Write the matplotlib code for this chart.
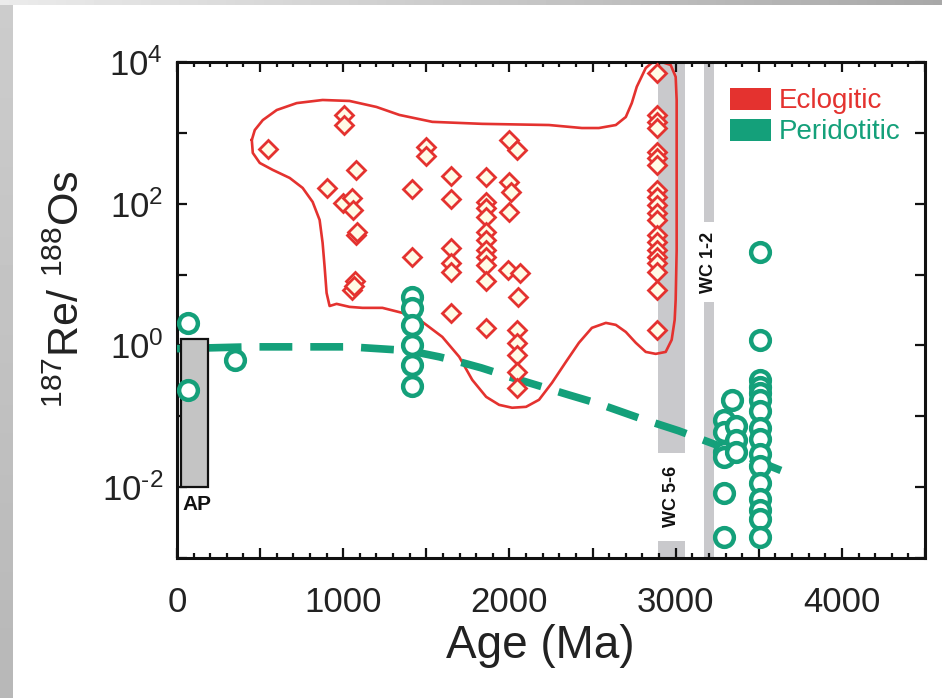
import matplotlib
matplotlib.use('Agg')
import matplotlib.pyplot as plt
import numpy as np
from matplotlib.patches import Rectangle, Patch
from matplotlib.ticker import FixedLocator, MultipleLocator, FuncFormatter, NullLocator

plt.rcParams['font.family'] = ['Liberation Sans', 'DejaVu Sans']
plt.rcParams['mathtext.fontset'] = 'custom'
plt.rcParams['mathtext.rm'] = 'Liberation Sans'
plt.rcParams['mathtext.it'] = 'Liberation Sans:italic'
plt.rcParams['mathtext.bf'] = 'Liberation Sans:bold'

RED = '#e4322f'
GREEN = '#14a07a'
BAND = '#c9c9cc'

# eclogitic diamonds (age Ma, 187Re/188Os)
ecl_age = [546, 1002, 1002, 1074, 900, 996, 1050, 1056, 1074, 1080, 1068, 1054, 1062,
           1500, 1500, 1416, 1416,
           1650, 1650, 1650, 1650, 1650, 1650,
           1860, 1860, 1860, 1860, 1860, 1860, 1860, 1860, 1860, 1860, 1860,
           2000, 2046, 2000, 2012, 2000, 1990, 2064, 2052,
           2046, 2046, 2046, 2046, 2046,
           2886, 2886, 2886, 2886, 2886, 2886, 2886, 2886, 2886, 2886,
           2886, 2886, 2886, 2886, 2886, 2886, 2886, 2886, 2886, 2886]
ecl_ratio = [587, 1800, 1285, 300, 167, 102, 120, 82, 36.5, 40, 8.0, 6.1, 6.8,
             628, 469, 160, 17.8,
             245, 117, 23.8, 14.6, 10.9, 2.9,
             240, 107, 87, 65, 40, 30.5, 22.3, 17.8, 13.6, 8.0, 1.77,
             785, 574, 205, 146, 76, 11.6, 10.6, 4.9,
             1.66, 1.08, 0.74, 0.42, 0.25,
             7060, 1800, 1406, 1175, 537, 439, 351, 157, 125, 96,
             75, 58, 36.5, 29, 22.3, 17.8, 14.6, 10.9, 6.1, 1.66]

# peridotitic diamonds
per_age = [66, 66, 348,
           1416, 1416, 1416, 1416, 1416, 1416,
           3510, 3510, 3510, 3510, 3510, 3510, 3510, 3510, 3510, 3510,
           3510, 3510, 3510, 3510, 3510, 3510,
           3336, 3288, 3288, 3288, 3288, 3288, 3288, 3360, 3360, 3360]
per_ratio = [2.07, 0.236, 0.63,
             4.75, 3.4, 1.94, 1.01, 0.53, 0.27,
             20.8, 1.21, 0.33, 0.26, 0.21, 0.17, 0.118, 0.069, 0.048, 0.029,
             0.0196, 0.0115, 0.0067, 0.0048, 0.0035, 0.00195,
             0.17, 0.090, 0.060, 0.031, 0.027, 0.0084, 0.0020, 0.072, 0.047, 0.031]

# dashed peridotitic trend
trend_age = [0, 438, 738, 1038, 1320, 1458, 1578, 1698, 1830, 2000, 2178, 2358, 2538,
             2778, 3018, 3348, 3696]
trend_ratio = [0.90, 0.955, 0.955, 0.955, 0.867, 0.787, 0.69, 0.587, 0.483, 0.36, 0.269,
               0.20, 0.150, 0.095, 0.0624, 0.032, 0.015]

# eclogitic envelope (closed outline)
env_age = [450, 468, 516, 600, 720, 876, 1038, 1200, 1338, 1536, 1836, 2238, 2436, 2538,
           2640, 2700, 2736, 2766, 2820, 2856, 2916, 2970, 3000, 3006, 3006, 3006, 3000,
           2994, 2976, 2940, 2880, 2820, 2760, 2700, 2640, 2580, 2496, 2418, 2340, 2256,
           2178, 2100, 2016, 1938, 1860, 1776, 1698, 1596, 1476, 1356, 1236, 1116, 1038,
           960, 918, 900, 888, 876, 858, 816, 756, 678, 576, 498, 456, 450]
env_ratio = [794, 1096, 1513, 2100, 2630, 2910, 2820, 2320, 1790, 1430, 1340, 1290, 1170,
             1170, 1290, 1675, 2630, 4470, 8220, 9700, 10000, 9070, 6170, 2900, 575, 22,
             4.4, 2.29, 1.2, 0.81, 0.76, 0.81, 1.09, 1.55, 1.95, 2.08, 1.77, 1.09, 0.587,
             0.297, 0.171, 0.136, 0.132, 0.145, 0.188, 0.327, 0.69, 1.32, 2.15, 2.88, 3.39,
             3.39, 3.5, 3.86, 3.6, 5.5, 12.9, 28, 59, 106, 167, 231, 300, 376, 521, 794]

wc56_age = (2892, 3054)
wc56_ratio = [(1e-3, 0.00175), (0.0305, 1e4)]
wc12_age = (3168, 3228)
wc12_ratio = [(1e-3, 4.1), (55, 1e4)]
ap_age = (25, 185)
ap_ratio = (0.0101, 1.25)

fig = plt.figure(figsize=(9.42, 6.98), dpi=100)

# slide background strips
bl = fig.add_axes([0, 0, 13 / 942, 1])
bl.imshow(np.linspace(0.80, 0.72, 50).reshape(-1, 1), cmap='gray', vmin=0, vmax=1,
          aspect='auto', extent=(0, 1, 0, 1))
bl.axis('off')
bt = fig.add_axes([0, 1 - 5 / 698, 1, 5 / 698])
bt.imshow(np.linspace(0.92, 0.66, 100).reshape(1, -1), cmap='gray', vmin=0, vmax=1,
          aspect='auto', extent=(0, 1, 0, 1))
bt.axis('off')

ax = fig.add_axes([177 / 942, 1 - 558 / 698, 748 / 942, 496 / 698])
ax.set_yscale('log')
ax.set_xlim(0, 4500)
ax.set_ylim(1e-3, 1e4)

for lo, hi in wc56_ratio:
    ax.fill_between(wc56_age, lo, hi, color=BAND, lw=0, zorder=1)
for lo, hi in wc12_ratio:
    ax.fill_between(wc12_age, lo, hi, color=BAND, lw=0, zorder=1)
ax.text(np.mean(wc56_age), 0.0073, 'WC 5-6', rotation=90, ha='center', va='center',
        fontsize=13, fontweight='bold', color='#111111')
ax.text(np.mean(wc12_age), 15, 'WC 1-2', rotation=90, ha='center', va='center',
        fontsize=13, fontweight='bold', color='#111111')

ax.plot(env_age, env_ratio, color=RED, lw=1.9, zorder=2, solid_joinstyle='round')

ax.plot(trend_age, trend_ratio, color=GREEN, lw=5.5, ls=(2.5, (4.3, 2.35)),
        dash_capstyle='butt', zorder=3)

ax.add_patch(Rectangle((ap_age[0], ap_ratio[0]), ap_age[1] - ap_age[0],
                       ap_ratio[1] - ap_ratio[0], facecolor='#c4c4c4',
                       edgecolor='#111111', lw=1.6, zorder=4))
ax.text(36, 0.0056, 'AP', ha='left', va='center', fontsize=15, fontweight='bold',
        color='#111111')

ax.plot(ecl_age, ecl_ratio, ls='none', marker='D', ms=8.8, mew=2.0, mec=RED,
        mfc='#fffbe6', zorder=5)
ax.plot(per_age, per_ratio, ls='none', marker='o', ms=13.5, mew=3.2, mec=GREEN,
        mfc='white', zorder=6)

ax.xaxis.set_major_locator(MultipleLocator(500))
ax.xaxis.set_minor_locator(MultipleLocator(100))
ax.xaxis.set_major_formatter(FuncFormatter(lambda v, p: '%d' % v if v % 1000 == 0 else ''))
ax.yaxis.set_major_locator(FixedLocator([10.0 ** k for k in range(-3, 5)]))
ax.yaxis.set_minor_locator(NullLocator())


def ylab(v, p):
    k = int(round(np.log10(v)))
    if k % 2 or k < -2:
        return ''
    return r'$10^{%s}$' % str(k).replace('-', '\u2010')


ax.yaxis.set_major_formatter(FuncFormatter(ylab))

ax.tick_params(which='both', direction='in', top=True, right=True, width=1.6,
               colors='#111111', labelcolor='#222222')
ax.tick_params(axis='x', which='major', length=7, labelsize=25, pad=20)
ax.tick_params(axis='x', which='minor', length=3.5)
ax.tick_params(axis='y', which='major', length=7, labelsize=25, pad=10)
for s in ax.spines.values():
    s.set_linewidth(2.2)
    s.set_color('#111111')

fig.text(540 / 942, 1 - 646 / 698, 'Age (Ma)', ha='center', va='center', fontsize=33,
         color='#222222')
fig.text(68 / 942, 1 - 289 / 698, r'$^{187}$Re/ $^{188}$Os', rotation=90,
         ha='center', va='center', fontsize=31, color='#222222')

handles = [Patch(facecolor=RED, edgecolor='none'), Patch(facecolor=GREEN, edgecolor='none')]
leg = ax.legend(handles, ['Eclogitic', 'Peridotitic'], loc='upper left',
                bbox_to_anchor=(0.739, 0.948), frameon=False, fontsize=20,
                borderpad=0, handlelength=1.5, handleheight=0.85,
                handletextpad=0.25, labelspacing=0.15, borderaxespad=0)
for t, c in zip(leg.get_texts(), [RED, GREEN]):
    t.set_color(c)

fig.savefig('out.png', dpi=100, facecolor='white')
